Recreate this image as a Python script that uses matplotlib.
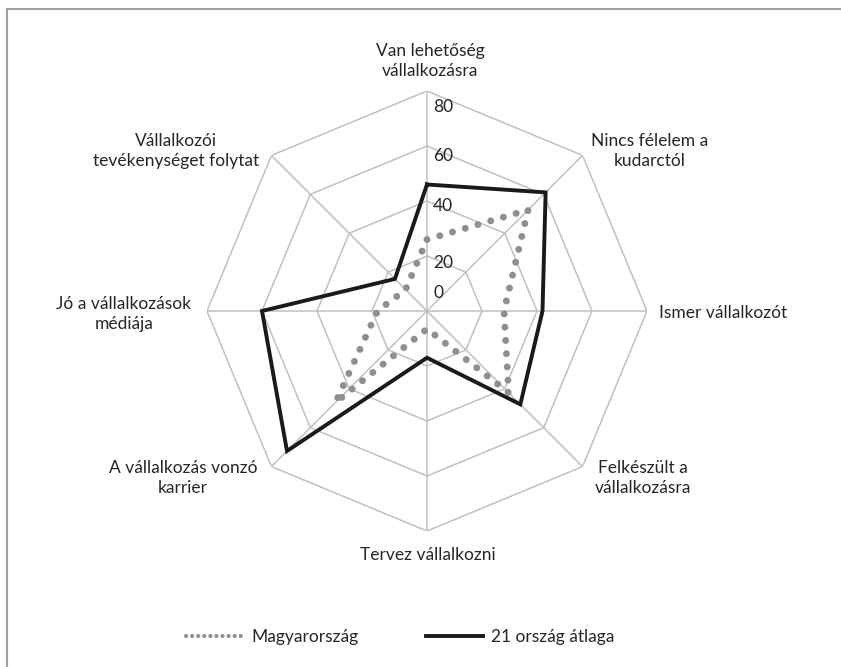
import numpy as np
import matplotlib.pyplot as plt
from matplotlib.lines import Line2D

plt.rcParams['font.family'] = ['Lato', 'DejaVu Sans']

categories = ["Van lehetőség\nvállalkozásra", "Nincs félelem a\nkudarctól",
              "Ismer vállalkozót", "Felkészült a\nvállalkozásra",
              "Tervez vállalkozni", "A vállalkozás vonzó\nkarrier",
              "Jó a vállalkozások\nmédiája", "Vállalkozói\ntevékenységet folytat"]
magyar = [26, 52, 28, 42, 6.5, 47, 18, 11]
atlag = [46, 61, 42, 48, 17, 72, 60, 16.5]
ticks = [0, 20, 40, 60, 80]

text_col = '#262626'
grid_col = '#c0c0c0'
fs = 12.5

n = len(categories)
angles = np.linspace(0, 2 * np.pi, n, endpoint=False)
closed = np.append(angles, angles[0])

fig = plt.figure(figsize=(8.41, 6.67), dpi=100)
W, H = 841, 667
cx, cy, R = 427, 311, 220
ax = fig.add_axes([(cx - R) / W, (H - cy - R) / H, 2 * R / W, 2 * R / H], projection='polar')
ax.set_theta_zero_location('N')
ax.set_theta_direction(-1)
ax.set_ylim(0, 80)
ax.grid(False)
ax.spines['polar'].set_visible(False)
ax.set_xticks([])
ax.set_yticks([])
ax.patch.set_alpha(0)

# octagon grid
for t in ticks[1:]:
    ax.plot(closed, [t] * (n + 1), color=grid_col, lw=1.1, zorder=1)
for a in angles:
    ax.plot([a, a], [0, 80], color=grid_col, lw=1.1, zorder=1)

# series
ax.plot(closed, magyar + magyar[:1], color='#8f8f8f', lw=5,
        linestyle=(0, (0.01, 1.9)), dash_capstyle='round', zorder=3)
ax.plot(closed, atlag + atlag[:1], color='#1a1a1a', lw=2.8, zorder=4,
        solid_joinstyle='miter')

# radial tick labels
offs = {0: 18, 20: -7, 40: -5, 60: -10, 80: -16}
for t in ticks:
    ax.annotate(str(t), xy=(0, t), xytext=(6, offs[t]), textcoords='offset pixels',
                ha='left', va='center', fontsize=fs, color=text_col)

# category labels (pixel positions of label centres)
label_pos = [(430, 61), (650, 151), (723, 313), (643, 478),
             (428, 555), (183, 478), (124, 314), (176, 151)]
for lab, (px, py) in zip(categories, label_pos):
    fig.text(px / W, 1 - py / H, lab, ha='center', va='center', fontsize=fs,
             color=text_col, linespacing=1.3)

# border (top and left visible)
fig.add_artist(plt.Line2D([7 / W, 1], [1 - 9 / H, 1 - 9 / H], transform=fig.transFigure,
                          color='#a0a0a0', lw=1.5))
fig.add_artist(plt.Line2D([7 / W, 7 / W], [0, 1 - 9 / H], transform=fig.transFigure,
                          color='#a0a0a0', lw=1.5))

handles = [Line2D([], [], color='#8f8f8f', lw=3, linestyle=(0, (0.01, 1.45)), dash_capstyle='round'),
           Line2D([], [], color='#1a1a1a', lw=2.8)]
fig.legend(handles, ['Magyarország', '21 ország átlaga'], loc='center',
           bbox_to_anchor=(400 / W, 1 - 637 / H), ncol=2, frameon=False,
           fontsize=fs, handlelength=3.3, columnspacing=3.9, handletextpad=0.45,
           labelcolor=text_col)

fig.savefig('out.png', dpi=100)
